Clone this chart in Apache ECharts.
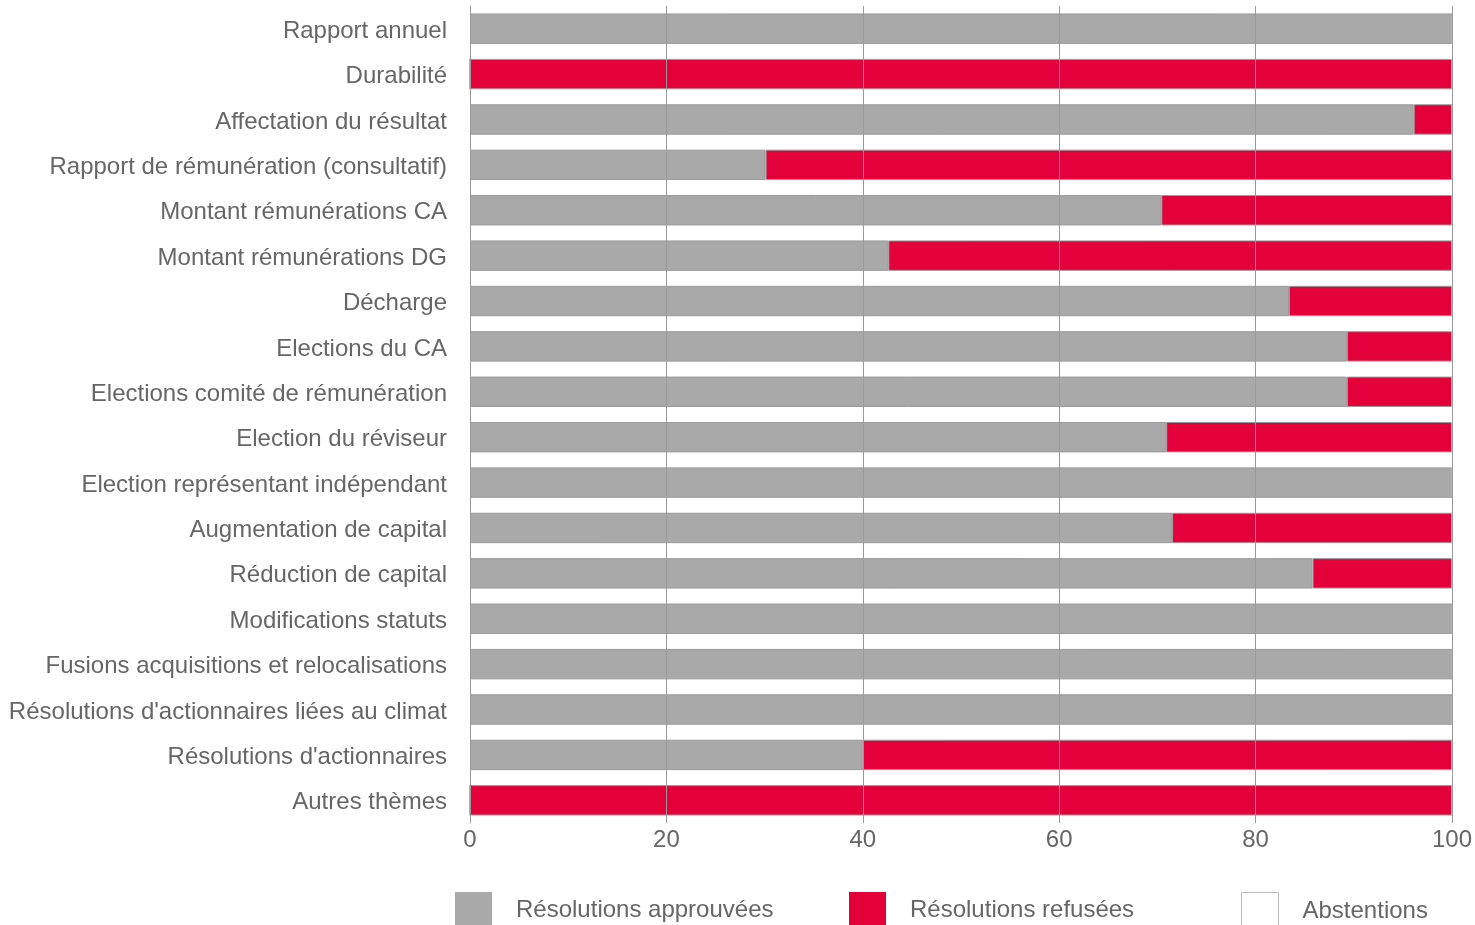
<!DOCTYPE html>
<html>
<head>
<meta charset="utf-8">
<script src="https://cdn.jsdelivr.net/npm/echarts@6/dist/echarts.min.js"></script>
<style>
html,body{margin:0;padding:0;background:#fff;}
#chart{width:1475px;height:925px;}
</style>
</head>
<body>
<div id="chart"></div>
<script>
const categories = [
  "Rapport annuel",
  "Durabilité",
  "Affectation du résultat",
  "Rapport de rémunération (consultatif)",
  "Montant rémunérations CA",
  "Montant rémunérations DG",
  "Décharge",
  "Elections du CA",
  "Elections comité de rémunération",
  "Election du réviseur",
  "Election représentant indépendant",
  "Augmentation de capital",
  "Réduction de capital",
  "Modifications statuts",
  "Fusions acquisitions et relocalisations",
  "Résolutions d'actionnaires liées au climat",
  "Résolutions d'actionnaires",
  "Autres thèmes"
];
const approved = [100, 0, 96.1, 30.1, 70.4, 42.6, 83.4, 89.3, 89.3, 70.9, 100, 71.5, 85.8, 100, 100, 100, 40, 0];
const refused  = [0, 100, 3.9, 69.9, 29.6, 57.4, 16.6, 10.7, 10.7, 29.1, 0, 28.5, 14.2, 0, 0, 0, 60, 100];
const abstentions = [0, 0, 0, 0, 0, 0, 0, 0, 0, 0, 0, 0, 0, 0, 0, 0, 0, 0];
const xTicks = [0, 20, 40, 60, 80, 100];

const TEXT = '#666666';
const FONT = '"Liberation Sans", Arial, sans-serif';
const GRAY = '#a9a9a9';
const RED = '#e4003a';
const LINE = '#9a9a9a';

const chart = echarts.init(document.getElementById('chart'), null, {renderer: 'canvas'});

function legendFor(name, left, extraItemStyle) {
  return {
    show: true,
    data: [name],
    left: left,
    top: 892,
    padding: 0,
    orient: 'horizontal',
    icon: 'rect',
    itemWidth: 37,
    itemHeight: 37,
    selectedMode: false,
    itemStyle: extraItemStyle,
    textStyle: {color: TEXT, fontSize: 24, fontFamily: FONT, padding: [0, 0, 0, 19]}
  };
}

chart.setOption({
  animation: false,
  backgroundColor: '#ffffff',
  grid: {left: 470, right: 22, top: 6, bottom: 102, containLabel: false},
  xAxis: {
    type: 'value',
    min: xTicks[0],
    max: xTicks[xTicks.length - 1],
    interval: 20,
    z: 5,
    axisLine: {show: false},
    axisTick: {show: false},
    splitLine: {show: true, lineStyle: {color: LINE, width: 1}},
    axisLabel: {color: TEXT, fontSize: 24, fontFamily: FONT, margin: 5}
  },
  yAxis: {
    type: 'category',
    data: categories,
    inverse: true,
    z: 5,
    axisLine: {show: true, lineStyle: {color: LINE, width: 1}},
    axisTick: {show: false},
    splitLine: {show: false},
    axisLabel: {
      color: TEXT, fontSize: 24, fontFamily: FONT, margin: 23,
      formatter: '{a|{value}}',
      rich: {a: {color: TEXT, fontSize: 24, fontFamily: FONT, padding: [5, 0, 0, 0]}}
    }
  },
  legend: [
    legendFor('Résolutions approuvées', 455, {borderWidth: 0}),
    legendFor('Résolutions refusées', 849, {borderWidth: 0}),
    legendFor('Abstentions', 1241, {color: '#ffffff', borderColor: '#bbbbbb', borderWidth: 1})
  ],
  series: [
    {
      name: 'Résolutions approuvées',
      type: 'bar',
      stack: 'total',
      data: approved,
      barCategoryGap: '33%',
      itemStyle: {color: GRAY, borderColor: LINE, borderWidth: 1}
    },
    {
      name: 'Résolutions refusées',
      type: 'bar',
      stack: 'total',
      data: refused,
      barCategoryGap: '33%',
      itemStyle: {color: RED, borderColor: LINE, borderWidth: 1}
    },
    {
      name: 'Abstentions',
      type: 'bar',
      stack: 'total',
      data: abstentions,
      barCategoryGap: '33%',
      itemStyle: {color: '#ffffff', borderColor: '#bbbbbb', borderWidth: 1}
    }
  ]
});
</script>
</body>
</html>
